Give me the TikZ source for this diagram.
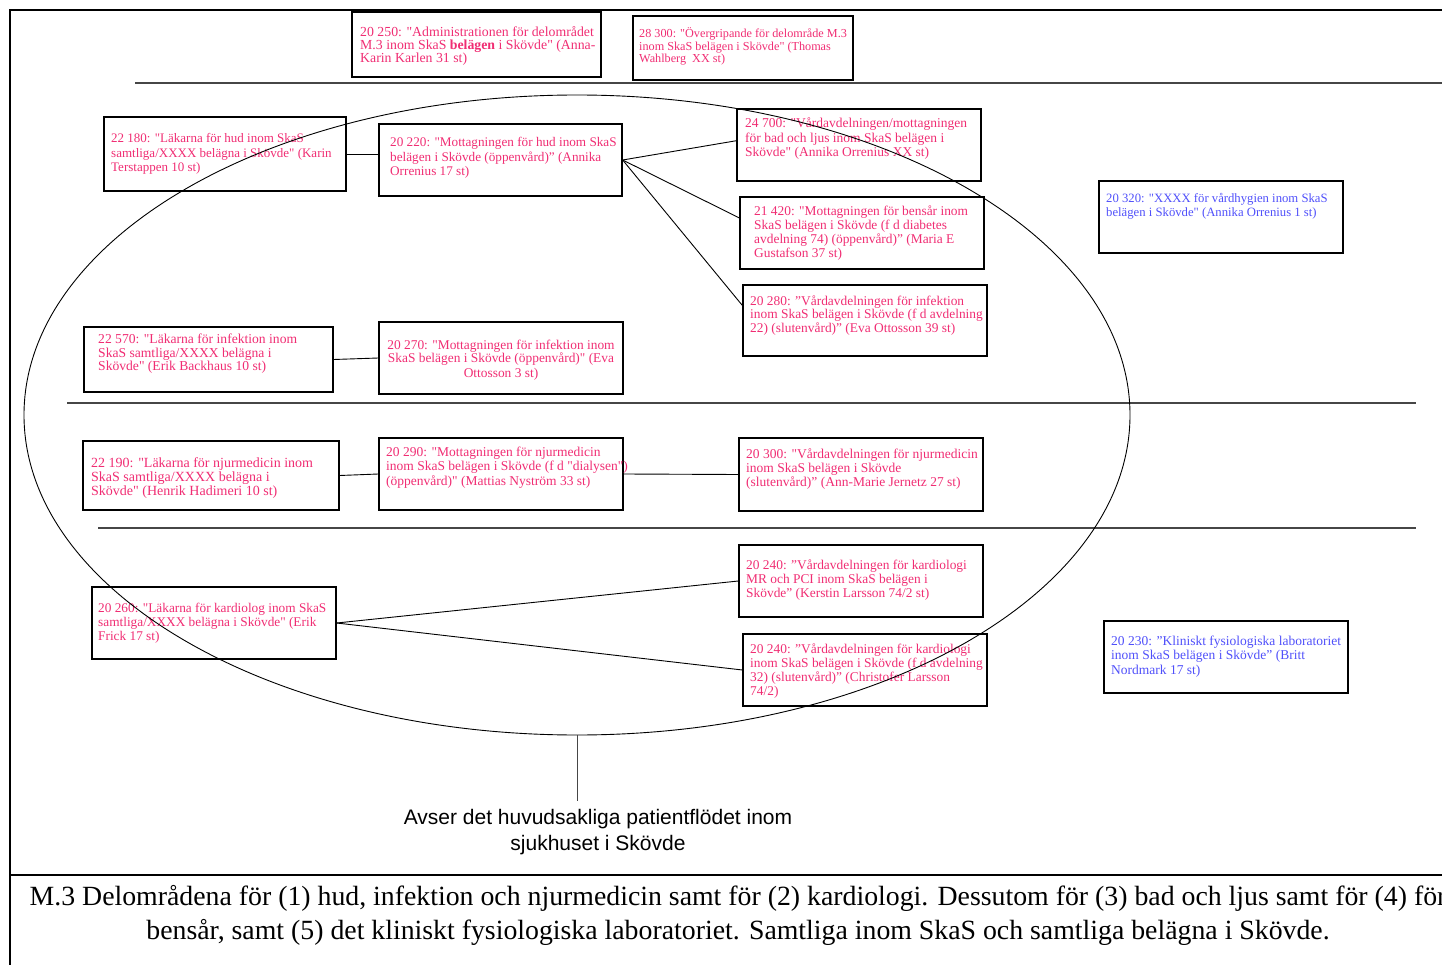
\documentclass[tikz,border=0pt]{standalone}
\usepackage{fontspec}
\setmainfont{Liberation Serif}[Ligatures=TeXOff]
\newfontfamily\arialfont{Liberation Sans}
\usetikzlibrary{shapes.geometric,fit}
\definecolor{pinktxt}{RGB}{240,45,115}
\definecolor{bluetxt}{RGB}{80,80,250}
\definecolor{rulegray}{RGB}{70,70,70}
\newcommand{\setfs}[2]{\fontsize{#1}{#2}\selectfont}
\begin{document}
\begin{tikzpicture}[x=1pt,y=-1pt,
  box/.style={draw=black, line width=1.3pt, inner sep=0pt},
  pk/.style={text=pinktxt, align=left, inner sep=0pt, anchor=base west},
  bl/.style={text=bluetxt, align=left, inner sep=0pt, anchor=base west},
  link/.style={draw=black, line width=0.9pt},
  rule/.style={draw=rulegray, line width=1.4pt},
  frame/.style={draw=black, line width=2pt}]
\useasboundingbox (0,0) rectangle (1442,965);
\clip (0,0) rectangle (1442,965);

% frame and separators
\draw[frame] (10,965) -- (10,10) -- (1442,10);
\draw[frame] (10,875) -- (1442,875);
\draw[rule] (135,83) -- (1442,83);
\draw[rule] (67,403) -- (1416,403);
\draw[rule] (98,528) -- (1416,528);

% boxes (text anchors give the baseline of the last line)
\node[box, fit={(352,12) (601,77)}] (b1) {};
\node[pk, font=\setfs{13.8}{12.5}] (t1) at (360,63) {20 250: "Administrationen för delområdet\\M.3 inom SkaS \textbf{belägen} i Skövde" (Anna-\\Karin Karlen 31 st)};

\node[box, fit={(633,16) (853,80)}] (b2) {};
\node[pk, font=\setfs{12.2}{12.5}] (t2) at (639,63) {28 300: "Övergripande för delområde M.3\\inom SkaS belägen i Skövde" (Thomas\\Wahlberg\ \ XX st)};

\node[box, fit={(104,117) (346,191)}] (b3) {};
\node[pk, font=\setfs{13}{14.5}] (t3) at (111,172) {22 180: "Läkarna för hud inom SkaS\\samtliga/XXXX belägna i Skövde" (Karin\\Terstappen 10 st)};

\node[box, fit={(379,124) (622,196)}] (b4) {};
\node[pk, font=\setfs{13.2}{14.5}] (t4) at (390,176) {20 220: "Mottagningen för hud inom SkaS\\belägen i Skövde (öppenvård)” (Annika\\Orrenius 17 st)};

\node[box, fit={(737,109) (981,181)}] (b5) {};
\node[pk, font=\setfs{13.5}{14.5}] (t5) at (745,157) {24 700: "Vårdavdelningen/mottagningen\\för bad och ljus inom SkaS belägen i\\Skövde" (Annika Orrenius XX st)};

\node[box, fit={(740,197) (984,269)}] (b6) {};
\node[pk, font=\setfs{13.4}{14.3}] (t6) at (754,258) {21 420: "Mottagningen för bensår inom\\SkaS belägen i Skövde (f d diabetes\\avdelning 74) (öppenvård)” (Maria E\\Gustafson 37 st)};

\node[box, fit={(1099,181) (1343,253)}] (b7) {};
\node[bl, font=\setfs{12.7}{14}] (t7) at (1106,217) {20 320: "XXXX för vårdhygien inom SkaS\\belägen i Skövde" (Annika Orrenius 1 st)};

\node[box, fit={(743,285) (987,356)}] (b8) {};
\node[pk, font=\setfs{13.4}{14}] (t8) at (750,333) {20 280: ”Vårdavdelningen för infektion\\inom SkaS belägen i Skövde (f d avdelning\\22) (slutenvård)” (Eva Ottosson 39 st)};

\node[box, fit={(84,327) (333,392)}] (b9) {};
\node[pk, font=\setfs{13.6}{13}] (t9) at (98,370) {22 570: "Läkarna för infektion inom\\SkaS samtliga/XXXX belägna i\\Skövde" (Erik Backhaus 10 st)};

\node[box, fit={(379,322) (623,394)}] (b10) {};
\node[pk, align=center, anchor=base, font=\setfs{13.4}{14}] (t10) at (501,377) {20 270: "Mottagningen för infektion inom\\SkaS belägen i Skövde (öppenvård)" (Eva\\Ottosson 3 st)};

\node[box, fit={(83,441) (339,510)}] (b11) {};
\node[pk, font=\setfs{14}{14}] (t11) at (91,495) {22 190: "Läkarna för njurmedicin inom\\SkaS samtliga/XXXX belägna i\\Skövde" (Henrik Hadimeri 10 st)};

\node[box, fit={(379,438) (623,510)}] (b12) {};
\node[pk, font=\setfs{13.5}{14.5}] (t12) at (386,485) {20 290: "Mottagningen för njurmedicin\\inom SkaS belägen i Skövde (f d "dialysen")\\(öppenvård)" (Mattias Nyström 33 st)};

\node[box, fit={(739,438) (983,511)}] (b13) {};
\node[pk, font=\setfs{13.5}{14}] (t13) at (746,486) {20 300: "Vårdavdelningen för njurmedicin\\inom SkaS belägen i Skövde\\(slutenvård)” (Ann-Marie Jernetz 27 st)};

\node[box, fit={(739,545) (983,617)}] (b14) {};
\node[pk, font=\setfs{13.4}{14}] (t14) at (746,597) {20 240: ”Vårdavdelningen för kardiologi\\MR och PCI inom SkaS belägen i\\Skövde” (Kerstin Larsson 74/2 st)};

\node[box, fit={(92,587) (336,659)}] (b15) {};
\node[pk, font=\setfs{13.3}{14}] (t15) at (98,640) {20 260: "Läkarna för kardiolog inom SkaS\\samtliga/XXXX belägna i Skövde" (Erik\\Frick 17 st)};

\node[box, fit={(743,634) (987,706)}] (b16) {};
\node[pk, font=\setfs{13.4}{14}] (t16) at (750,695) {20 240: ”Vårdavdelningen för kardiologi\\inom SkaS belägen i Skövde (f d avdelning\\32) (slutenvård)” (Christofer Larsson\\74/2)};

\node[box, fit={(1104,621) (1348,693)}] (b17) {};
\node[bl, font=\setfs{13.5}{14.5}] (t17) at (1111,674) {20 230: ”Kliniskt fysiologiska laboratoriet\\inom SkaS belägen i Skövde” (Britt\\Nordmark 17 st)};

% connectors
\draw[link] (b3.east) -- (b3.east -| b4.west);
\draw[link] (b4.east) -- (b5.178);
\draw[link] (b4.east) -- (b6.173);
\draw[link] (b4.east) -- (b8.173);
\draw[link] (b9.east) -- (b10.west);
\draw[link] (b11.east) -- (b12.west);
\draw[link] (b12.east) -- (b13.west);
\draw[link] (b15.east) -- (b14.west);
\draw[link] (b15.east) -- (b16.west);

% ellipse and note
\node[draw=black, line width=0.9pt, ellipse, inner sep=0pt, minimum width=1106pt, minimum height=640pt] (ell) at (577,415) {};
\node[align=center, anchor=base, inner sep=8pt, font=\arialfont\setfs{21}{26}] (note) at (598,850) {Avser det huvudsakliga patientflödet inom\\sjukhuset i Skövde};
\draw[draw=rulegray, line width=1pt] (ell.south) -- (ell.south |- note.north);

% caption
\node[align=center, anchor=base, inner sep=0pt, font=\setfs{27.8}{34}] (cap) at (738,939) {M.3 Delområdena för (1) hud, infektion och njurmedicin samt för (2) kardiologi. Dessutom för (3) bad och ljus samt för (4) för\\bensår, samt (5) det kliniskt fysiologiska laboratoriet. Samtliga inom SkaS och samtliga belägna i Skövde.};
\end{tikzpicture}
\end{document}
